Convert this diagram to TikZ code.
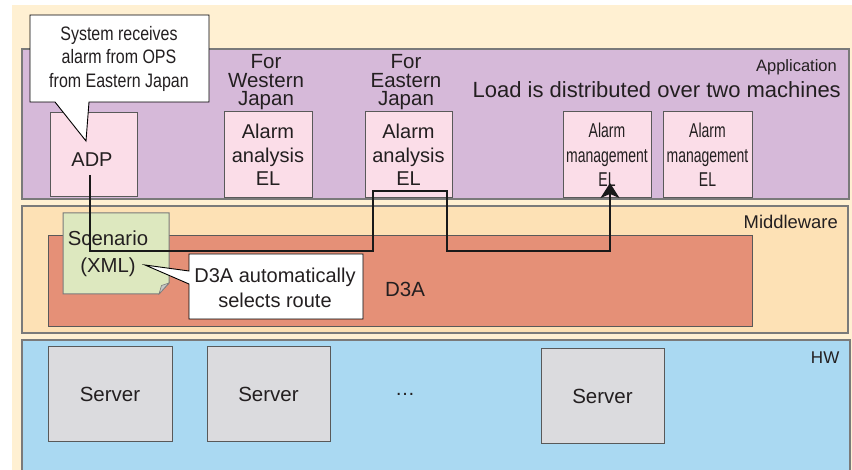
\documentclass[tikz,border=0pt]{standalone}
\usepackage{fontspec}
\setmainfont{Liberation Sans}
\newfontfamily\condA[FakeStretch=0.7]{Liberation Sans}
\newfontfamily\condB[FakeStretch=0.82]{Liberation Sans}
\usetikzlibrary{arrows.meta}
\definecolor{cream}{HTML}{FFF0D2}
\definecolor{appc}{HTML}{D6B9D9}
\definecolor{mwc}{HTML}{FDE1B5}
\definecolor{d3ac}{HTML}{E59077}
\definecolor{hwc}{HTML}{AAD9F2}
\definecolor{srvc}{HTML}{DBDBDE}
\definecolor{pinkc}{HTML}{FBDDE8}
\definecolor{notec}{HTML}{DDE8BF}
\definecolor{laygray}{HTML}{7A7A7A}
\definecolor{boxgray}{HTML}{595959}
\definecolor{txt}{HTML}{231F20}
\tikzset{
  layer/.style={draw=laygray, line width=1.5pt, inner sep=0pt},
  elbox/.style={draw=boxgray, fill=pinkc, line width=1pt, inner sep=0pt, align=center, text=txt},
  srvbox/.style={draw=boxgray, fill=srvc, line width=1pt, inner sep=0pt, align=center, text=txt,
    minimum width=124pt, minimum height=94pt, font=\fontsize{20.5}{24}\selectfont},
  lbl/.style={inner sep=0pt, text=txt, align=center},
  callout/.style={draw=black, fill=white, line width=0.9pt, line join=miter},
  route/.style={draw=black!90, line width=1.8pt, -{Stealth[length=15pt,width=19pt,inset=4pt]}}
}
\begin{document}
\begin{tikzpicture}[x=1pt,y=-1pt]
\useasboundingbox (0,0) rectangle (852,470);
\clip (0,0) rectangle (852,470);
\fill[white] (0,0) rectangle (852,470);
\fill[cream] (12,5) rectangle (852,470);
% layers
\node[layer, fill=appc, minimum width=827pt, minimum height=150pt] (app) at (435.5,124) {};
\node[layer, fill=mwc, minimum width=826pt, minimum height=127pt] (mw) at (435,269.5) {};
\node[layer, fill=hwc, minimum width=828pt, minimum height=140pt] (hw) at (436,410) {};
\node[lbl, anchor=east, font=\fontsize{16.5}{19}\selectfont] (applbl) at (837,67) {Application};
\node[lbl, anchor=east, font=\fontsize{22}{26}\selectfont] (load) at (841,90) {Load is distributed over two machines};
\node[lbl, anchor=east, font=\fontsize{18.4}{22}\selectfont] (mwlbl) at (838,222) {Middleware};
\node[lbl, anchor=east, font=\fontsize{17}{20}\selectfont] (hwlbl) at (839.5,358) {HW};
% application boxes
\node[elbox, minimum width=87pt, minimum height=84pt] (adp) at (93.5,155) {};
\node[lbl, font=\fontsize{20}{24}\selectfont] (adptxt) at (92,160) {ADP};
\node[lbl, font=\fontsize{20.5}{18.5}\selectfont] (west) at (266,82.5) {For\\Western\\Japan};
\node[lbl, font=\fontsize{20.5}{18.5}\selectfont] (east) at (406,82.5) {For\\Eastern\\Japan};
\node[elbox, minimum width=88pt, minimum height=86pt, font=\fontsize{20}{23.5}\selectfont] (aa1) at (268,155) {Alarm\\analysis\\EL};
\node[elbox, minimum width=87pt, minimum height=86pt, font=\fontsize{20}{23.5}\selectfont] (aa2) at (408.5,155) {Alarm\\analysis\\EL};
\node[elbox, minimum width=88pt, minimum height=86pt, font=\condA\fontsize{20}{24.5}\selectfont] (am1) at (607,155) {Alarm\\management\\EL};
\node[elbox, minimum width=89pt, minimum height=86pt, font=\condA\fontsize{20}{24.5}\selectfont] (am2) at (707.5,155) {Alarm\\management\\EL};
% middleware
\node[draw=boxgray, fill=d3ac, line width=1pt, inner sep=0pt, minimum width=704pt, minimum height=91pt] (d3a) at (400,281.5) {};
\node[lbl, font=\fontsize{20.5}{24}\selectfont] (d3atxt) at (405,289) {D3A};
% scenario note
\filldraw[fill=notec, draw=laygray, line width=1pt] (63,213) -- (169,213) -- (169,283) -- (159,294) -- (63,294) -- cycle;
\filldraw[fill=gray!45, draw=laygray, line width=0.6pt] (169,283) -- (159,294) -- (161.5,285.5) -- cycle;
\node[lbl, font=\fontsize{20.3}{27}\selectfont] (scen) at (108,253.5) {Scenario\\(XML)};
% callouts
\path[callout] (189,254) -- (363,254) -- (363,319) -- (189,319) -- (189,284) -- (145,265) -- (189,271) -- cycle;
\node[lbl, font=\fontsize{20}{25}\selectfont] (c2txt) at (275,287.5) {D3A automatically\\selects route};
\path[callout] (30,15) -- (209,15) -- (209,102) -- (89,102) -- (86,141) -- (55,102) -- (30,102) -- cycle;
\node[lbl, font=\condB\fontsize{19.5}{23.5}\selectfont] (c1txt) at (119,58.5) {System receives\\alarm from OPS\\from Eastern Japan};
% servers
\node[srvbox] (s1) at (110,394) {Server};
\node[srvbox, minimum width=123pt] (s2) at (268.5,394) {Server};
\node[lbl, font=\fontsize{20}{24}\selectfont] (dots) at (405,394) {…};
\node[srvbox, minimum width=123pt] (s3) at (602.5,396) {Server};
% route
\coordinate (r0) at (90,175);
\coordinate (r1) at (610,183);
\draw[route] (r0) -- (90,251) -- (373,251) -- (373,191) -- (447,191) -- (447,251) -- (610,251) -- (r1);
\end{tikzpicture}
\end{document}
